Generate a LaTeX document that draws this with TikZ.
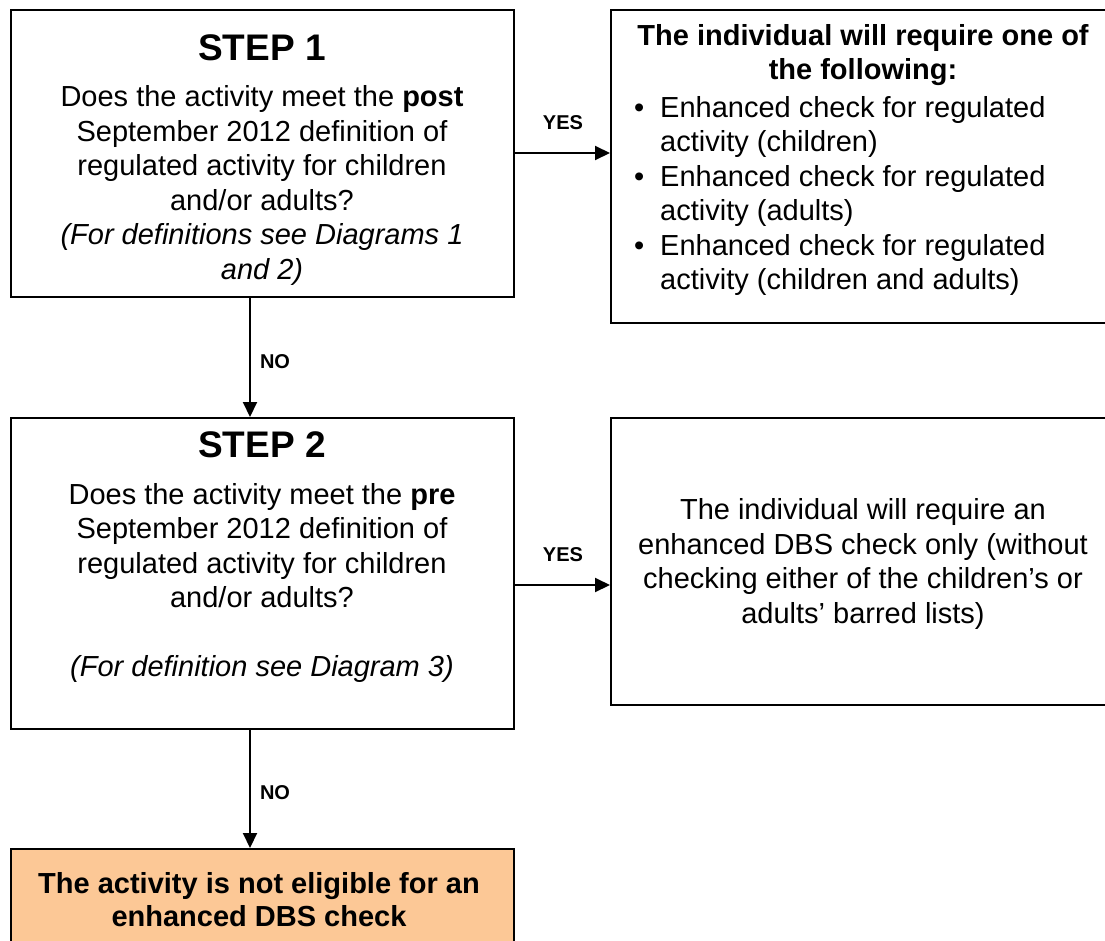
\documentclass[tikz,border=0pt]{standalone}
\usepackage{fontspec}
\setmainfont{Liberation Sans}
\usetikzlibrary{arrows.meta}
\definecolor{peach}{RGB}{252,200,150}
\begin{document}
\begin{tikzpicture}[x=1pt,y=-1pt,
  box/.style={draw=black,line width=2pt,inner sep=0pt},
  txt/.style={align=center,inner sep=0pt,font=\fontsize{29}{34.5}\selectfont},
  conn/.style={line width=2pt,-{Triangle[length=15pt,width=14pt]}},
  lab/.style={font=\fontsize{20}{24}\selectfont\bfseries,inner sep=0pt}]
\useasboundingbox (0,0) rectangle (1105,940);
\clip (0,0) rectangle (1105,940);
% boxes
\node[box,minimum width=503pt,minimum height=287pt] (s1) at (262,153) {};
\node[box,minimum width=504pt,minimum height=313pt] (r1) at (863,166) {};
\node[box,minimum width=503pt,minimum height=311pt] (s2) at (262,573.5) {};
\node[box,minimum width=504pt,minimum height=287pt] (r2) at (863,561.5) {};
\node[box,fill=peach,minimum width=503pt,minimum height=131pt] (b) at (262,914.5) {};
% texts
\node[txt] (t1) at (262,160) {{\fontsize{37}{40}\selectfont\bfseries STEP 1}\\[12pt]
Does the activity meet the \textbf{post}\\
September 2012 definition of\\
regulated activity for children\\
and/or adults?\\
\textit{(For definitions see Diagrams 1}\\
\textit{and 2)}};
\node[txt] (t2) at (262,557.5) {{\fontsize{37}{40}\selectfont\bfseries STEP 2}\\[12pt]
Does the activity meet the \textbf{pre}\\
September 2012 definition of\\
regulated activity for children\\
and/or adults?\\[34.5pt]
\textit{(For definition see Diagram 3)}};
\node[txt,font=\fontsize{29}{34.5}\selectfont\bfseries] (t3) at (863,55) {The individual will require one of\\ the following:};
\node[txt,align=left,anchor=west] (t4) at (628,196) {%
\makebox[32pt][l]{\hspace{6pt}\textbullet}Enhanced check for regulated\\
\hspace*{32pt}activity (children)\\
\makebox[32pt][l]{\hspace{6pt}\textbullet}Enhanced check for regulated\\
\hspace*{32pt}activity (adults)\\
\makebox[32pt][l]{\hspace{6pt}\textbullet}Enhanced check for regulated\\
\hspace*{32pt}activity (children and adults)};
\node[txt] (t5) at (863,564) {The individual will require an\\
enhanced DBS check only (without\\
checking either of the children’s or\\
adults’ barred lists)};
\node[txt,font=\fontsize{29}{33}\selectfont\bfseries] (t6) at (259,900) {The activity is not eligible for an\\ enhanced DBS check};
% connectors
\coordinate (nx) at (250,0);
\coordinate (y2) at (0,585);
\draw[conn] (s1.east) -- (r1.west |- s1.east);
\draw[conn] (s2.east |- y2) -- (r2.west |- y2);
\draw[conn] (s1.south -| nx) -- (s2.north -| nx);
\draw[conn] (s2.south -| nx) -- (b.north -| nx);
% labels
\node[lab] (yes1) at (563,123) {YES};
\node[lab] (yes2) at (563,555) {YES};
\node[lab] (no1) at (275,362) {NO};
\node[lab] (no2) at (275,793) {NO};
\end{tikzpicture}
\end{document}
